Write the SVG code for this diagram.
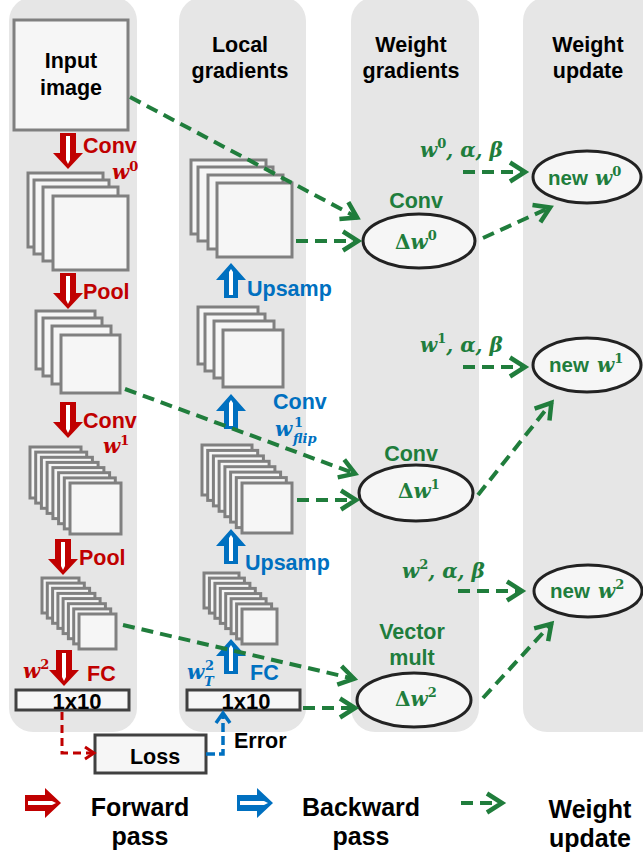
<svg xmlns="http://www.w3.org/2000/svg" width="643" height="860" viewBox="0 0 643 860">
<style>
.col{fill:#e6e6e6}
.sq{fill:#f6f6f6;stroke:#808080;stroke-width:3}
.bx{fill:#f6f6f6;stroke:#404040;stroke-width:3}
.el{fill:#f6f6f6;stroke:#222;stroke-width:3}
.t{font-family:"Liberation Sans",Arial,sans-serif;font-weight:bold;font-size:21.5px}
.c{text-anchor:middle}
.k{fill:#000}
.r{fill:#c00000}
.b{fill:#0070c0}
.g{fill:#207d3c}
.m{font-family:"DejaVu Serif","Liberation Serif",serif;font-style:italic;font-weight:bold;font-size:20px}
.s{font-family:"DejaVu Serif","Liberation Serif",serif;font-weight:bold;font-size:13px;font-style:normal}
.si{font-family:"DejaVu Serif","Liberation Serif",serif;font-weight:bold;font-size:13px;font-style:italic}
.gd{fill:none;stroke:#207d3c;stroke-width:4;stroke-dasharray:12 7}
.lg{font-size:25px}
</style>
<defs>
<marker id="ga" markerUnits="userSpaceOnUse" markerWidth="26" markerHeight="26" viewBox="0 0 26 26" refX="21" refY="13" orient="auto"><path d="M5,3.5 L20,13 L5,22.5" fill="none" stroke="#207d3c" stroke-width="4.5"/></marker>
<marker id="ra" markerUnits="userSpaceOnUse" markerWidth="16" markerHeight="16" viewBox="0 0 16 16" refX="13" refY="8" orient="auto"><path d="M4,2 L13,8 L4,14" fill="none" stroke="#c00000" stroke-width="3"/></marker>
<marker id="ba" markerUnits="userSpaceOnUse" markerWidth="18" markerHeight="18" viewBox="0 0 18 18" refX="14" refY="9" orient="auto"><path d="M4,2 L14,9 L4,16" fill="none" stroke="#0070c0" stroke-width="3.5"/></marker>
<g id="dn"><path d="M-8,0 H8 V20 H15 L0,36 L-15,20 H-8 Z" fill="currentColor"/><path d="M-2,3 H2 V27 L0,31 L-2,27 Z" fill="#fff"/></g>
<g id="up"><path d="M0,0 L15,17 H7 V35 H-7 V17 H-15 Z" fill="currentColor"/><path d="M0,6 L2,9 V32 H-2 V9 Z" fill="#fff"/></g>
</defs>

<g id="columns">
<rect class="col" x="9" y="-3" width="128" height="735" rx="24"/>
<rect class="col" x="179" y="-3" width="127" height="735" rx="24"/>
<rect class="col" x="351" y="-3" width="128" height="735" rx="24"/>
<rect class="col" x="523" y="-3" width="140" height="735" rx="24"/>
</g>

<g id="headers">
<text class="t c k" x="240" y="52">Local</text>
<text class="t c k" x="240" y="78">gradients</text>
<text class="t c k" x="411" y="52">Weight</text>
<text class="t c k" x="411" y="78">gradients</text>
<text class="t c k" x="588" y="52">Weight</text>
<text class="t c k" x="588" y="78">update</text>
</g>

<g id="input-image">
<rect class="sq" x="14" y="20" width="114" height="110"/>
<text class="t c k" x="71" y="68">Input</text>
<text class="t c k" x="71" y="95">image</text>
</g>

<g id="fwd-conv0">
<use href="#dn" x="68" y="133" style="color:#c00000"/>
<text class="t r" x="83" y="153">Conv</text>
<text class="m r" x="112" y="179">w<tspan class="s" dy="-8">0</tspan></text>
</g>

<g id="fmap1">
<rect class="sq" x="28" y="173" width="75" height="74"/>
<rect class="sq" x="34" y="180" width="75" height="74"/>
<rect class="sq" x="43" y="187" width="75" height="74"/>
<rect class="sq" x="53" y="196" width="75" height="74"/>
</g>

<g id="fwd-pool1">
<use href="#dn" x="68" y="273" style="color:#c00000"/>
<text class="t r" x="83" y="299">Pool</text>
</g>

<g id="fmap2">
<rect class="sq" x="36" y="311" width="59" height="58"/>
<rect class="sq" x="43" y="318" width="59" height="58"/>
<rect class="sq" x="52" y="326" width="59" height="58"/>
<rect class="sq" x="61" y="335" width="59" height="58"/>
</g>

<g id="fwd-conv1">
<use href="#dn" x="68" y="402" style="color:#c00000"/>
<text class="t r" x="83" y="428">Conv</text>
<text class="m r" x="103" y="453">w<tspan class="s" dy="-8">1</tspan></text>
</g>

<g id="fmap3">
<rect class="sq" x="30" y="447" width="51" height="51"/>
<rect class="sq" x="35.7" y="452.1" width="51" height="51"/>
<rect class="sq" x="41.4" y="457.3" width="51" height="51"/>
<rect class="sq" x="47.1" y="462.4" width="51" height="51"/>
<rect class="sq" x="52.9" y="467.6" width="51" height="51"/>
<rect class="sq" x="58.6" y="472.7" width="51" height="51"/>
<rect class="sq" x="64.3" y="477.9" width="51" height="51"/>
<rect class="sq" x="70" y="483" width="51" height="51"/>
</g>

<g id="fwd-pool2">
<use href="#dn" x="63" y="539" style="color:#c00000"/>
<text class="t r" x="79" y="565">Pool</text>
</g>

<g id="fmap4">
<rect class="sq" x="42" y="578" width="37" height="35"/>
<rect class="sq" x="47.3" y="583.1" width="37" height="35"/>
<rect class="sq" x="52.6" y="588.3" width="37" height="35"/>
<rect class="sq" x="57.9" y="593.4" width="37" height="35"/>
<rect class="sq" x="63.1" y="598.6" width="37" height="35"/>
<rect class="sq" x="68.4" y="603.7" width="37" height="35"/>
<rect class="sq" x="73.7" y="608.9" width="37" height="35"/>
<rect class="sq" x="79" y="614" width="37" height="35"/>
</g>

<g id="fwd-fc">
<use href="#dn" x="64" y="650" style="color:#c00000"/>
<text class="m r" x="23" y="678">w<tspan class="s" dy="-9">2</tspan></text>
<text class="t r" x="87" y="681">FC</text>
</g>

<g id="out-fwd">
<rect class="bx" x="16" y="690" width="113" height="20"/>
<text class="t c k" x="77" y="709" style="font-size:22px">1x10</text>
</g>

<g id="loss">
<rect class="bx" x="95" y="735" width="111" height="38"/>
<text class="t c k" x="155" y="764">Loss</text>
</g>

<g id="grad1">
<rect class="sq" x="191" y="160" width="75" height="74"/>
<rect class="sq" x="198" y="167" width="75" height="74"/>
<rect class="sq" x="208" y="175" width="75" height="74"/>
<rect class="sq" x="217" y="183" width="75" height="74"/>
</g>

<g id="bwd-upsamp1">
<use href="#up" x="231" y="263" style="color:#0070c0"/>
<text class="t b" x="247" y="296">Upsamp</text>
</g>

<g id="grad2">
<rect class="sq" x="198" y="307" width="60" height="57"/>
<rect class="sq" x="205" y="314" width="60" height="57"/>
<rect class="sq" x="214" y="321" width="60" height="57"/>
<rect class="sq" x="223" y="330" width="60" height="57"/>
</g>

<g id="bwd-conv">
<use href="#up" x="231" y="394" style="color:#0070c0"/>
<text class="t b" x="273" y="409">Conv</text>
<text class="m b" x="275" y="436">w</text>
<text class="s b" x="294" y="427">1</text>
<text class="si b" x="293" y="443">flip</text>
</g>

<g id="grad3">
<rect class="sq" x="202" y="445" width="50" height="50"/>
<rect class="sq" x="207.7" y="450.4" width="50" height="50"/>
<rect class="sq" x="213.4" y="455.9" width="50" height="50"/>
<rect class="sq" x="219.1" y="461.3" width="50" height="50"/>
<rect class="sq" x="224.9" y="466.7" width="50" height="50"/>
<rect class="sq" x="230.6" y="472.1" width="50" height="50"/>
<rect class="sq" x="236.3" y="477.6" width="50" height="50"/>
<rect class="sq" x="242" y="483" width="50" height="50"/>
</g>

<g id="bwd-upsamp2">
<use href="#up" x="231" y="529" style="color:#0070c0"/>
<text class="t b" x="245" y="570">Upsamp</text>
</g>

<g id="grad4">
<rect class="sq" x="204" y="573" width="35" height="35"/>
<rect class="sq" x="209.4" y="578.1" width="35" height="35"/>
<rect class="sq" x="214.9" y="583.3" width="35" height="35"/>
<rect class="sq" x="220.3" y="588.4" width="35" height="35"/>
<rect class="sq" x="225.7" y="593.6" width="35" height="35"/>
<rect class="sq" x="231.1" y="598.7" width="35" height="35"/>
<rect class="sq" x="236.6" y="603.9" width="35" height="35"/>
<rect class="sq" x="242" y="609" width="35" height="35"/>
</g>

<g id="bwd-fc">
<use href="#up" x="231" y="639" style="color:#0070c0"/>
<text class="m b" x="187" y="679">w</text>
<text class="s b" x="205" y="670">2</text>
<text class="si b" x="204" y="686">T</text>
<text class="t b" x="250" y="680">FC</text>
</g>

<g id="out-bwd">
<rect class="bx" x="187" y="690" width="113" height="20"/>
<text class="t c k" x="246" y="709" style="font-size:22px">1x10</text>
</g>

<text class="t k" x="234" y="748">Error</text>

<g id="dw0">
<text class="t c g" x="416" y="208">Conv</text>
<ellipse class="el" cx="419" cy="241" rx="56" ry="27"/>
<text class="m g" x="395" y="249"><tspan style="font-style:normal">Δ</tspan>w<tspan class="s" dy="-9">0</tspan></text>
</g>

<g id="dw1">
<text class="t c g" x="411" y="461">Conv</text>
<ellipse class="el" cx="416" cy="493" rx="57" ry="28"/>
<text class="m g" x="398" y="498"><tspan style="font-style:normal">Δ</tspan>w<tspan class="s" dy="-9">1</tspan></text>
</g>

<g id="dw2">
<text class="t c g" x="412" y="639">Vector</text>
<text class="t c g" x="412" y="665">mult</text>
<ellipse class="el" cx="414" cy="700" rx="57" ry="27"/>
<text class="m g" x="395" y="706"><tspan style="font-style:normal">Δ</tspan>w<tspan class="s" dy="-9">2</tspan></text>
</g>

<g id="params">
<text class="m g" x="420" y="157">w<tspan class="s" dy="-9">0</tspan><tspan dy="9">, α, β</tspan></text>
<text class="m g" x="420" y="352">w<tspan class="s" dy="-9">1</tspan><tspan dy="9">, α, β</tspan></text>
<text class="m g" x="402" y="578">w<tspan class="s" dy="-9">2</tspan><tspan dy="9">, α, β</tspan></text>
</g>

<g id="new-w0">
<ellipse class="el" cx="587" cy="177" rx="54" ry="26"/>
<text class="t g" x="548" y="185" style="font-size:20.5px">new</text>
<text class="m g" x="595" y="185">w<tspan class="s" dy="-9">0</tspan></text>
</g>
<g id="new-w1">
<ellipse class="el" cx="587" cy="365" rx="54" ry="27"/>
<text class="t g" x="549" y="372" style="font-size:20.5px">new</text>
<text class="m g" x="597" y="372">w<tspan class="s" dy="-9">1</tspan></text>
</g>
<g id="new-w2">
<ellipse class="el" cx="588" cy="591" rx="54" ry="26"/>
<text class="t g" x="550" y="598" style="font-size:20.5px">new</text>
<text class="m g" x="598" y="598">w<tspan class="s" dy="-9">2</tspan></text>
</g>

<g id="connectors">
<path class="gd" d="M130,97 L358,218" marker-end="url(#ga)"/>
<path class="gd" d="M296,241 L359,241" marker-end="url(#ga)"/>
<path class="gd" d="M483,238 L551,207" marker-end="url(#ga)"/>
<path class="gd" d="M463,172 L526,172" marker-end="url(#ga)"/>
<path class="gd" d="M125,389 L356,474" marker-end="url(#ga)"/>
<path class="gd" d="M297,500 L357,500" marker-end="url(#ga)"/>
<path class="gd" d="M478,495 L552,402" marker-end="url(#ga)"/>
<path class="gd" d="M463,367 L526,367" marker-end="url(#ga)"/>
<path class="gd" d="M123,625 L355,679" marker-end="url(#ga)"/>
<path class="gd" d="M303,708 L356,708" marker-end="url(#ga)"/>
<path class="gd" d="M483,698 L552,623" marker-end="url(#ga)"/>
<path class="gd" d="M458,591 L523,591" marker-end="url(#ga)"/>
<path d="M62,712 V753 H94" fill="none" stroke="#c00000" stroke-width="3" stroke-dasharray="8 5" marker-end="url(#ra)"/>
<path d="M206,754 H223 V713" fill="none" stroke="#0070c0" stroke-width="3.5" stroke-dasharray="9 4" marker-end="url(#ba)"/>
</g>

<g id="legend">
<use href="#dn" transform="translate(25,803) rotate(-90)" style="color:#c00000"/>
<text class="t c k lg" x="140" y="816">Forward</text>
<text class="t c k lg" x="140" y="845">pass</text>
<use href="#dn" transform="translate(237,803) rotate(-90)" style="color:#0070c0"/>
<text class="t c k lg" x="361" y="816">Backward</text>
<text class="t c k lg" x="361" y="845">pass</text>
<path class="gd" d="M461,803 L503,803" marker-end="url(#ga)"/>
<text class="t c k lg" x="590" y="818">Weight</text>
<text class="t c k lg" x="590" y="847">update</text>
</g>
</svg>
